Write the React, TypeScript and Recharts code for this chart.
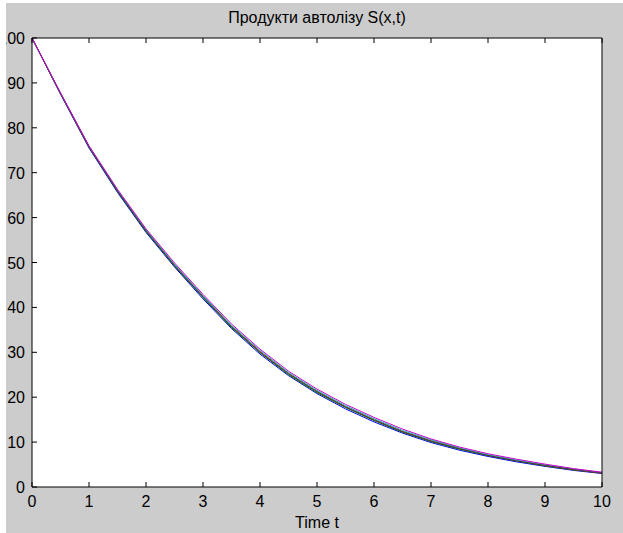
import { LineChart, Line, XAxis, YAxis } from 'recharts';

// time points along the x axis
const times = [0, 0.5, 1, 1.5, 2, 2.5, 3, 3.5, 4, 4.5, 5, 5.5, 6, 6.5, 7, 7.5, 8, 8.5, 9, 9.5, 10];

// S(x,t) curves (they lie almost on top of each other)
const sBlue = [100, 87.5, 75.5, 65.6, 56.7, 49.0, 41.9, 35.3, 29.6, 24.8, 20.8, 17.4, 14.5, 12.0, 9.9, 8.2, 6.8, 5.6, 4.6, 3.7, 3.0];
const sGreen = [100, 87.6, 75.7, 65.8, 56.9, 49.2, 42.2, 35.5, 29.9, 25.0, 21.0, 17.7, 14.8, 12.2, 10.1, 8.4, 7.0, 5.8, 4.7, 3.8, 3.1];
const sRed = [100, 87.7, 75.8, 66.0, 57.2, 49.5, 42.5, 35.8, 30.2, 25.3, 21.3, 17.9, 15.0, 12.4, 10.3, 8.6, 7.1, 5.9, 4.8, 3.9, 3.1];
const sCyan = [100, 87.7, 75.9, 66.1, 57.3, 49.6, 42.6, 36.0, 30.4, 25.5, 21.5, 18.1, 15.2, 12.6, 10.5, 8.7, 7.2, 6.0, 4.9, 4.0, 3.2];
const sDark = [100, 87.6, 75.7, 65.9, 57.0, 49.3, 42.3, 35.7, 30.0, 25.2, 21.2, 17.8, 14.9, 12.3, 10.2, 8.5, 7.0, 5.8, 4.8, 3.9, 3.1];
const sMagenta = [100, 87.8, 76.0, 66.3, 57.5, 49.9, 42.9, 36.3, 30.7, 25.8, 21.8, 18.4, 15.5, 12.9, 10.7, 8.9, 7.4, 6.2, 5.1, 4.1, 3.3];

const xTicks = [0, 1, 2, 3, 4, 5, 6, 7, 8, 9, 10];
const yTicks = [0, 10, 20, 30, 40, 50, 60, 70, 80, 90, 100];

const SERIES = [
  { key: 'blue', color: '#0000ff', values: sBlue },
  { key: 'green', color: '#008000', values: sGreen },
  { key: 'red', color: '#ff0000', values: sRed },
  { key: 'cyan', color: '#00bfbf', values: sCyan },
  { key: 'dark', color: '#404040', values: sDark },
  { key: 'magenta', color: '#d000d0', values: sMagenta },
];

const rows = times.map((t, i) => {
  const row: Record<string, number> = { t };
  SERIES.forEach((s) => {
    row[s.key] = s.values[i];
  });
  return row;
});

const FONT = '"Liberation Sans", Arial, sans-serif';

// matlab style ticks point into the axes box
const BottomTick = ({ x, y, payload }: any) => (
  <g>
    <line x1={x} x2={x} y1={y} y2={y - 5} stroke="#000" />
    <text x={x} y={y + 20} textAnchor="middle" fontSize={16} fontFamily={FONT} fill="#000">
      {payload.value}
    </text>
  </g>
);

const TopTick = ({ x, y }: any) => <line x1={x} x2={x} y1={y} y2={y + 5} stroke="#000" />;

const LeftTick = ({ x, y, payload }: any) => (
  <g>
    <line x1={x} x2={x + 5} y1={y} y2={y} stroke="#000" />
    <text x={x - 7} y={y + 6} textAnchor="end" fontSize={16} fontFamily={FONT} fill="#000">
      {payload.value}
    </text>
  </g>
);

const RightTick = ({ x, y }: any) => <line x1={x} x2={x - 5} y1={y} y2={y} stroke="#000" />;

export default function App() {
  return (
    <div style={{ position: 'absolute', left: 0, top: 0, width: 623, height: 533, background: '#fff' }}>
      <div
        style={{
          position: 'absolute',
          left: 6,
          top: 3,
          width: 617,
          height: 530,
          overflow: 'hidden',
          background: '#cccccc',
        }}
      >
        <div
          style={{
            position: 'absolute',
            left: 26,
            width: 570,
            top: 7,
            textAlign: 'center',
            fontFamily: FONT,
            fontSize: 16,
            lineHeight: '16px',
            color: '#000',
          }}
        >
          Продукти автолізу S(x,t)
        </div>
        <LineChart width={617} height={530} data={rows} margin={{ top: 0, right: 0, bottom: 0, left: 0 }}>
          <rect x={26} y={35} width={570} height={449} fill="#fff" />
          <XAxis
            dataKey="t"
            type="number"
            domain={[0, 10]}
            ticks={xTicks}
            height={46}
            tickSize={0}
            tickMargin={0}
            tickLine={false}
            tick={<BottomTick />}
            axisLine={{ stroke: '#000' }}
            label={{ value: 'Time t', position: 'insideBottom', offset: 5, fontSize: 16, fontFamily: FONT, fill: '#000' }}
          />
          <XAxis
            xAxisId="top"
            orientation="top"
            dataKey="t"
            type="number"
            domain={[0, 10]}
            ticks={xTicks}
            height={35}
            tickSize={0}
            tickMargin={0}
            tickLine={false}
            tick={<TopTick />}
            axisLine={{ stroke: '#000' }}
          />
          <YAxis
            type="number"
            domain={[0, 100]}
            ticks={yTicks}
            width={26}
            tickSize={0}
            tickMargin={0}
            tickLine={false}
            tick={<LeftTick />}
            axisLine={{ stroke: '#000' }}
          />
          <YAxis
            yAxisId="right"
            orientation="right"
            type="number"
            domain={[0, 100]}
            ticks={yTicks}
            width={21}
            tickSize={0}
            tickMargin={0}
            tickLine={false}
            tick={<RightTick />}
            axisLine={{ stroke: '#000' }}
          />
          {SERIES.map((s) => (
            <Line
              key={s.key}
              dataKey={s.key}
              type="linear"
              stroke={s.color}
              strokeWidth={1}
              dot={false}
              isAnimationActive={false}
            />
          ))}
        </LineChart>
      </div>
    </div>
  );
}
